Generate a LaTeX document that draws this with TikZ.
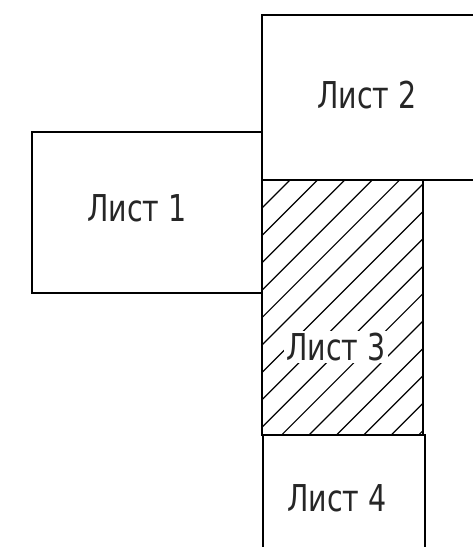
\documentclass[tikz,border=0pt]{standalone}
\usepackage{fontspec}
\newfontfamily\gostfont[FakeStretch=0.77]{DejaVu Sans}
\usetikzlibrary{calc}
\tikzset{edge/.style={black,line width=1.8pt},
  hatch/.style={black,line width=1.2pt},
  label/.style={font=\gostfont\fontsize{37}{40}\selectfont,text=black!85}}

\begin{document}
\begin{tikzpicture}[x=1pt,y=-1pt]
\useasboundingbox (0,0) rectangle (472,547);

\coordinate (A1) at (32,132);
\coordinate (B1) at (262,293);
\coordinate (A2) at (262,15);
\coordinate (B2) at (474,180);
\coordinate (A3) at (262,180);
\coordinate (B3) at (423,435);

% hatching of sheet 3
\begin{scope}
\clip (A3) rectangle (B3);
\foreach \y in {208,235.4,...,620}
  \draw[hatch] (262,\y)--++(300,-300);
\end{scope}

\draw[edge] (A1) rectangle (B1);
\draw[edge] (A2) rectangle (B2);
\draw[edge] (A3) rectangle (B3);
\draw[edge] (263,549)--(263,435)--(425,435)--(425,549);

\node[label] (l1) at (137,208) {Лист 1};
\node[label] (l2) at (367,95) {Лист 2};
\node[label,fill=white,inner sep=2pt] (l3) at (336,347) {Лист 3};
\node[label] (l4) at (337,498) {Лист 4};

\end{tikzpicture}
\end{document}
